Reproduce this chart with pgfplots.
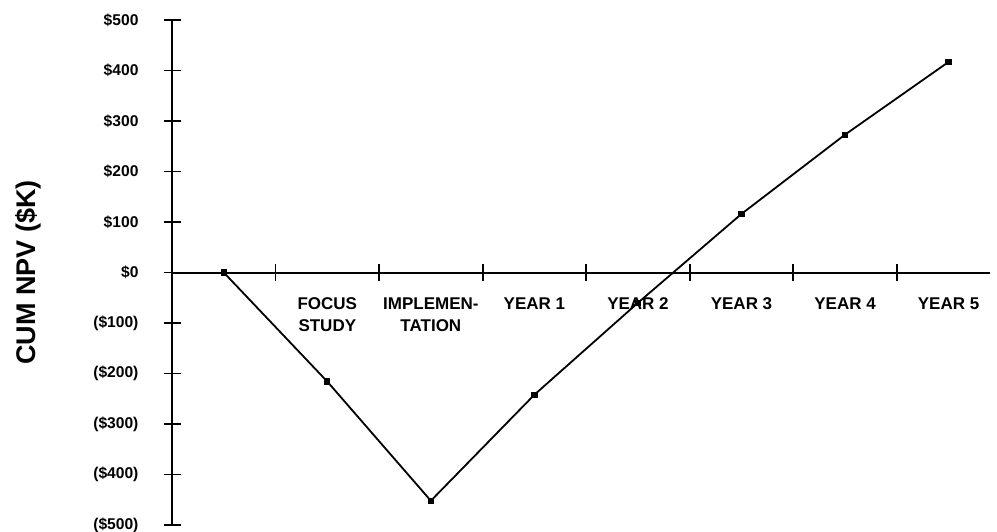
\documentclass[border=0pt]{standalone}
\usepackage{fontspec}
\setmainfont{Liberation Sans}
\usepackage{pgfplots}
\pgfplotsset{compat=1.18}
\begin{document}
\begin{tikzpicture}
\begin{axis}[
  scale only axis,
  width=409pt, height=252.5pt,
  xmin=-0.5, xmax=7.4,
  ymin=-500, ymax=500,
  axis x line=middle,
  axis y line=left,
  axis line style={-, line width=1pt},
  tick align=center,
  major tick length=8.5pt,
  tick style={line width=0.9pt, black},
  xtick={0.5,1.5,2.5,3.5,4.5,5.5,6.5},
  xticklabels={},
  ytick={-500,-400,-300,-200,-100,0,100,200,300,400,500},
  yticklabels={(\$500),(\$400),(\$300),(\$200),(\$100),\$0,\$100,\$200,\$300,\$400,\$500},
  yticklabel style={font=\fontsize{7.8}{9}\selectfont\bfseries, anchor=east, xshift=-9pt},
  extra x ticks={1,2,3,4,5,6,7},
  extra x tick labels={{FOCUS\\STUDY},{IMPLEMEN-\\TATION},{YEAR 1},{YEAR 2},{YEAR 3},{YEAR 4},{YEAR 5}},
  extra x tick style={major tick length=0pt,
    xticklabel style={font=\fontsize{8.5}{11}\selectfont\bfseries, align=center, anchor=north, yshift=-9pt}},
  ylabel={CUM NPV (\$K)},
  ylabel style={font=\fontsize{13.5}{15}\selectfont\bfseries, at={(axis description cs:0,0.5)}, anchor=center, yshift=72pt},
  clip=false,
]
\addplot[black, line width=0.9pt, mark=square*, mark size=1.1pt] coordinates {
  (0,0) (1,-216) (2,-452) (3,-242) (4,-60) (5,116) (6,273) (7,417)
};
\end{axis}
\pgfresetboundingbox
\path ([xshift=-86pt,yshift=-3pt]current axis.south west) rectangle ([xshift=3.5pt,yshift=10pt]current axis.north east);
\end{tikzpicture}
\end{document}
